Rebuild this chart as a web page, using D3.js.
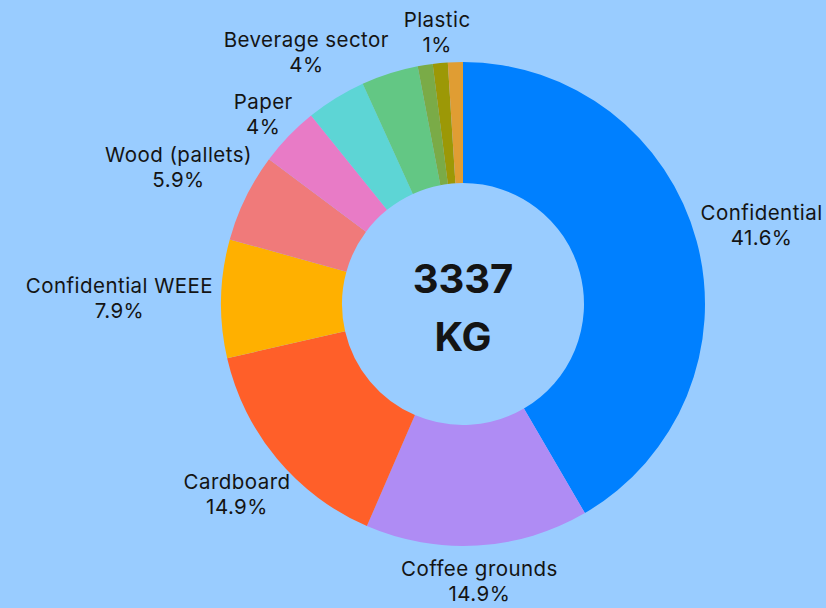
<!DOCTYPE html>
<html>
<head>
<meta charset="utf-8">
<script src="https://cdn.jsdelivr.net/npm/d3@7"></script>
<style>
  html, body { margin: 0; padding: 0; background: #99CCFF; }
  svg { display: block; }
  text { font-family: Inter, "Noto Sans", sans-serif; fill: #141414; }
</style>
</head>
<body>
<svg id="chart" width="826" height="608"></svg>
<script>
// Waste streams, share of total collected weight (%)
const categories = ["Confidential", "Coffee grounds", "Cardboard", "Confidential WEEE",
  "Wood (pallets)", "Paper", "Beverage sector", "", "", "Plastic", ""];
const shares = [41.6, 14.9, 14.9, 7.9, 5.9, 4.0, 4.0, 3.8, 1.0, 1.0, 1.0];
const colors = ["#0080FF", "#AF8CF4", "#FF5F29", "#FFB000", "#F07A7A", "#E87BC6",
  "#5DD5D5", "#63C784", "#7AAB47", "#9C9806", "#E09D33"];
const totalWeight = "3337";
const unitLabel = "KG";

const width = 826, height = 608;
const cx = 463, cy = 304;
const outerR = 242, innerR = 121;
const labelGap = 8, lineStep = 25;

const svg = d3.select("#chart");
svg.append("rect").attr("width", width).attr("height", height).attr("fill", "#99CCFF");

const data = categories.map((name, i) => ({ name, share: shares[i], color: colors[i] }));

const pie = d3.pie().sort(null).value(d => d.share);
const arc = d3.arc().innerRadius(innerR).outerRadius(outerR);
const arcs = pie(data);

const g = svg.append("g").attr("transform", `translate(${cx},${cy})`);

g.selectAll("path.slice")
  .data(arcs)
  .join("path")
  .attr("class", "slice")
  .attr("d", arc)
  .attr("fill", d => d.data.color);

// Percent label: one decimal, trailing ".0" dropped
const fmtPct = v => (Math.round(v * 10) / 10).toString() + "%";

// Outside labels, pushed out along the mid-angle by the box's half-extent
const labels = g.selectAll("g.label")
  .data(arcs.filter(d => d.data.name))
  .join("g")
  .attr("class", "label");

const labelFont = sel => sel
  .attr("text-anchor", "middle")
  .attr("font-size", 20.5)
  .attr("letter-spacing", 0.45);

labels.append("text").attr("class", "l1").call(labelFont)
  .text(d => d.data.name);
labels.append("text").attr("class", "l2").call(labelFont)
  .text(d => fmtPct(d.data.share));

labels.each(function(d) {
  const sel = d3.select(this);
  const w = Math.max(sel.select(".l1").node().getComputedTextLength(),
                     sel.select(".l2").node().getComputedTextLength());
  const h = lineStep * 2;
  const a = (d.startAngle + d.endAngle) / 2;
  const vx = Math.sin(a), vy = -Math.cos(a);
  const ext = Math.hypot(w / 2 * vx, h / 2 * vy);
  const r = outerR + labelGap + ext;
  const x = r * vx, y = r * vy;
  sel.select(".l1").attr("x", x).attr("y", y - 3);
  sel.select(".l2").attr("x", x).attr("y", y + 22);
});

// Total in the hole
const centerFont = sel => sel
  .attr("text-anchor", "middle")
  .attr("font-size", 40)
  .attr("font-weight", 700);
g.append("text").call(centerFont).attr("y", -11).text(totalWeight);
g.append("text").call(centerFont).attr("y", 47).text(unitLabel);
</script>
</body>
</html>
